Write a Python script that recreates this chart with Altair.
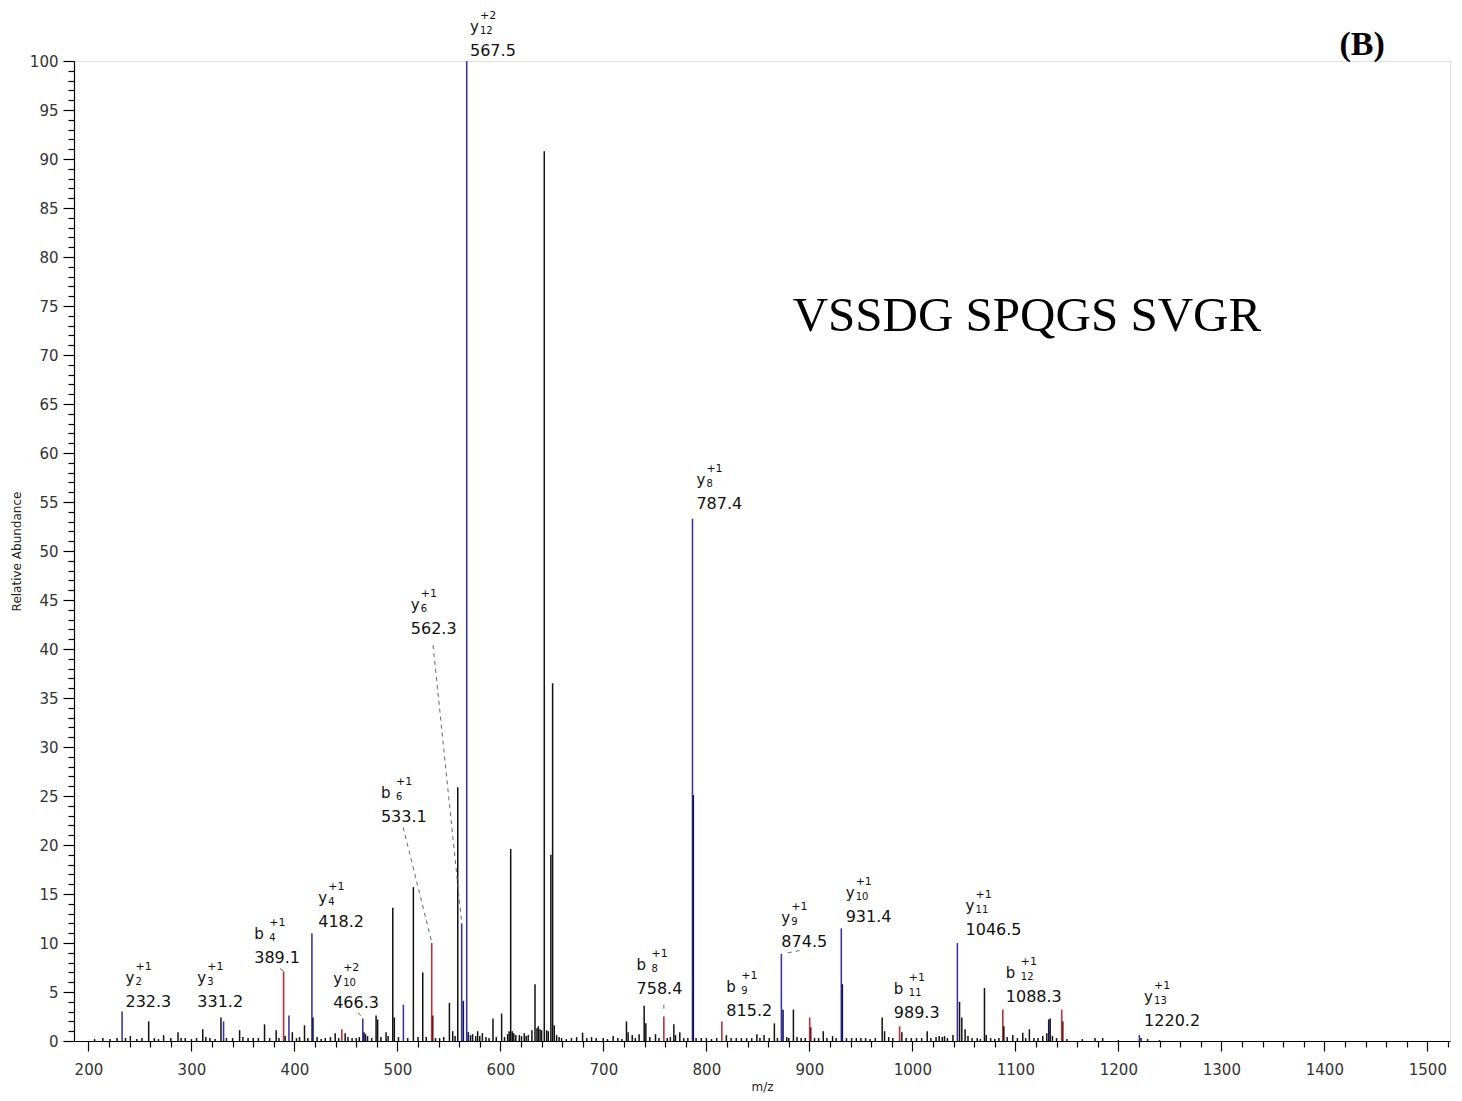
import altair as alt
import pandas as pd

# ---------------- peaks (m/z, relative abundance, ion class) ----------------
mz = [206, 214, 221, 227.8, 232.7, 236, 240.7, 247, 252, 258.5, 264, 268, 273, 280, 287, 290, 294, 300, 305, 311,
      314, 318, 323, 328.7, 331.2, 334, 340, 346.8, 350, 355, 360, 365, 371, 376, 382.3, 385, 389.5, 391, 394.7, 398,
      402, 405, 409.8, 413, 417, 418, 422, 426, 430, 435, 439.6, 443, 446, 449.3, 452, 456, 460, 463, 466.4, 467.5,
      469, 471, 475, 479.3, 480.8, 484, 489, 491, 495.5, 497, 501, 505.8, 510, 515.5, 520, 524.6, 528, 533.3, 534.3, 537,
      541, 545, 550.5, 553.7, 556, 558.6, 562.4, 564, 567.3, 568.8, 571, 573, 576, 577.9, 580, 582.5, 586, 589, 592.8, 596,
      601.2, 604, 607, 608.5, 610, 611.5, 613, 615, 618.4, 620.5, 623.2, 625, 627, 630.6, 633.6, 635.5, 636.8, 638.5, 640, 642.6,
      644.9, 646.5, 649, 650.7, 652.3, 654.6, 657, 659.4, 664, 669, 674, 679.8, 684, 688.5, 693, 699.8, 704, 709.5, 714, 718,
      722.4, 724, 728, 731, 734.7, 739.6, 741.2, 745, 750.6, 754, 758.7, 762, 765, 768.4, 770, 774.2, 778, 782, 786.5, 787.3,
      790, 795, 800, 805, 810, 815, 819.4, 824, 829, 834, 839, 844, 849, 852, 856, 861, 866, 869, 872.8, 874.4,
      878, 880, 884.5, 888, 892, 896, 900.3, 901.3, 905, 909, 913.5, 917, 922.5, 926, 931, 932, 936, 941, 945.6, 950,
      954.6, 959, 964, 970.7, 973, 977, 981, 987.6, 989.8, 994, 999, 1004, 1009, 1014.4, 1018, 1023, 1026, 1029, 1031.2, 1034,
      1039.4, 1043.7, 1045.8, 1048, 1051.2, 1054, 1058, 1063, 1066, 1070, 1071.7, 1076, 1080, 1084, 1087.8, 1088.8, 1092, 1097.5, 1102, 1107.2,
      1110, 1113.6, 1118, 1122, 1126.6, 1130.5, 1132.4, 1133.8, 1136, 1140, 1145, 1146, 1150, 1165, 1177.3, 1184.8, 1200, 1220.4, 1222, 1228.4,
      1240]
abundance = [0.2, 0.3, 0.2, 0.3, 3.0, 0.3, 0.5, 0.2, 0.3, 2.0, 0.3, 0.2, 0.6, 0.3, 0.9, 0.3, 0.3, 0.2, 0.3, 1.2,
             0.4, 0.3, 0.2, 2.4, 2.0, 0.3, 0.3, 1.1, 0.4, 0.3, 0.3, 0.3, 1.7, 0.3, 1.1, 0.3, 7.1, 0.5, 2.6, 0.9,
             0.3, 0.4, 1.6, 0.3, 11.0, 2.4, 0.4, 0.2, 0.3, 0.4, 0.8, 0.3, 1.2, 0.8, 0.4, 0.3, 0.3, 0.4, 2.3, 0.9,
             0.7, 0.5, 0.3, 2.6, 2.2, 0.4, 0.9, 0.5, 13.6, 2.4, 0.4, 3.7, 0.3, 15.7, 0.4, 7.0, 0.4, 10.0, 2.6, 0.3,
             0.3, 0.4, 3.9, 1.0, 0.5, 25.9, 12.0, 4.1, 100.0, 0.9, 0.6, 0.7, 0.5, 1.0, 0.5, 0.8, 0.4, 0.3, 2.3, 0.4,
             2.8, 0.4, 0.7, 1.0, 19.6, 1.0, 0.8, 0.6, 0.6, 0.5, 0.8, 0.5, 0.6, 1.1, 5.8, 1.3, 1.5, 1.2, 1.1, 90.8,
             1.1, 1.0, 19.0, 36.5, 1.6, 0.6, 0.4, 0.3, 0.2, 0.3, 0.4, 0.85, 0.3, 0.4, 0.3, 0.3, 0.2, 0.5, 0.3, 0.2,
             2.0, 0.9, 0.6, 0.3, 0.7, 3.6, 1.8, 0.4, 0.7, 0.3, 2.5, 0.3, 0.4, 1.7, 0.6, 0.9, 0.3, 0.3, 53.3, 25.1,
             0.3, 0.3, 0.3, 0.2, 0.3, 2.0, 0.6, 0.3, 0.3, 0.3, 0.3, 0.3, 0.7, 0.3, 0.6, 0.3, 1.8, 0.3, 8.9, 3.2,
             0.4, 0.3, 3.2, 0.4, 0.3, 0.3, 2.4, 1.4, 0.3, 0.3, 1.0, 0.3, 0.5, 0.3, 11.5, 5.8, 0.3, 0.3, 0.3, 0.3,
             0.3, 0.2, 0.3, 2.4, 1.0, 0.4, 0.3, 1.5, 0.9, 0.3, 0.3, 0.3, 0.3, 1.0, 0.3, 0.4, 0.5, 0.4, 0.5, 0.3,
             0.6, 10.0, 4.0, 2.4, 1.2, 0.5, 0.3, 0.3, 0.2, 5.4, 0.6, 0.3, 0.2, 0.3, 3.2, 1.5, 0.4, 0.6, 0.3, 0.85,
             0.3, 1.2, 0.3, 0.3, 0.5, 0.8, 2.2, 2.3, 0.5, 0.3, 3.2, 2.0, 0.2, 0.2, 0.3, 0.3, 0.1, 0.6, 0.3, 0.2,
             0.1]
kind = ["n", "n", "n", "n", "y", "n", "n", "n", "n", "n", "n", "n", "n", "n", "n", "n", "n", "n", "n", "n",
        "n", "n", "n", "n", "y", "n", "n", "n", "n", "n", "n", "n", "n", "n", "n", "n", "b", "n", "y", "n",
        "n", "n", "n", "n", "y", "yd", "n", "n", "n", "n", "n", "n", "b", "n", "n", "n", "n", "n", "y", "yd",
        "n", "n", "n", "n", "n", "n", "n", "n", "n", "n", "n", "y", "n", "n", "n", "n", "n", "b", "bd", "n",
        "n", "n", "n", "n", "n", "n", "y", "yd", "y", "yd", "n", "n", "n", "n", "n", "n", "n", "n", "n", "n",
        "n", "n", "n", "n", "n", "n", "n", "n", "n", "n", "n", "n", "n", "n", "n", "n", "n", "n", "n", "n",
        "n", "n", "n", "n", "n", "n", "n", "n", "n", "n", "n", "n", "n", "n", "n", "n", "n", "n", "n", "n",
        "n", "n", "n", "n", "n", "n", "n", "n", "n", "n", "b", "n", "n", "n", "n", "n", "n", "n", "y", "yd",
        "n", "n", "n", "n", "n", "b", "n", "n", "n", "n", "n", "n", "n", "n", "n", "n", "n", "n", "y", "yd",
        "n", "n", "n", "n", "n", "n", "b", "bd", "n", "n", "n", "n", "n", "n", "y", "yd", "n", "n", "n", "n",
        "n", "n", "n", "n", "n", "n", "n", "b", "n", "n", "n", "n", "n", "n", "n", "n", "n", "n", "n", "n",
        "n", "y", "n", "n", "n", "n", "n", "n", "n", "n", "n", "n", "n", "n", "b", "n", "n", "n", "n", "n",
        "n", "n", "n", "n", "n", "n", "yd", "n", "n", "n", "b", "bd", "n", "n", "n", "n", "n", "y", "yd", "n",
        "n"]

# ---------------- fragment labels ----------------
ion_letter = ["y", "y", "b", "y", "y", "b", "y", "y", "y", "b", "b", "y", "y", "b", "y", "b", "y"]
ion_index = ["2", "3", "4", "4", "10", "6", "6", "12", "8", "8", "9", "9", "10", "11", "11", "12", "13"]
ion_charge = ["+1", "+1", "+1", "+1", "+2", "+1", "+1", "+2", "+1", "+1", "+1", "+1", "+1", "+1", "+1", "+1", "+1"]
ion_mz_text = ["232.3", "331.2", "389.1", "418.2", "466.3", "533.1", "562.3", "567.5", "787.4", "758.4",
               "815.2", "874.5", "931.4", "989.3", "1046.5", "1088.3", "1220.2"]
label_mz = [236.0, 305.7, 361.0, 423.1, 437.6, 484.0, 513.0, 570.5, 790.3, 732.2,
            819.4, 872.8, 935.2, 982.0, 1051.6, 1090.7, 1225.0]
label_ab = [4.0, 4.0, 8.5, 12.1, 3.9, 22.9, 42.0, 101.0, 54.8, 5.3,
            3.1, 10.1, 12.7, 2.9, 11.3, 4.5, 2.0]

# leader lines from labels to their peaks
lead_x1 = [534.6, 505.6, 461.9, 386.0, 758.7, 879.0]
lead_y1 = [40.4, 21.8, 2.9, 7.4, 3.7, 9.0]
lead_x2 = [562.4, 533.3, 466.4, 389.5, 758.7, 894.0]
lead_y2 = [12.1, 10.1, 2.3, 7.1, 3.0, 9.3]

# annotations
panel_tag = ["(B)"]
tag_mz = [1436.7]
tag_ab = [101.6]
sequence = ["VSSDG SPQGS SVGR"]
seq_mz = [1111.2]
seq_ab = [74.0]

x_ticks = list(range(200, 1521, 20))
y_ticks = list(range(0, 101))

# ---------------- build ----------------
peaks = pd.DataFrame({"mz": mz, "ab": abundance, "kind": kind})
peaks["base"] = 0.0
labels = pd.DataFrame({"letter": ion_letter, "idx": ion_index, "chg": ion_charge,
                       "txt": ion_mz_text, "lx": label_mz, "ly": label_ab})
leaders = pd.DataFrame({"x1": lead_x1, "y1": lead_y1, "x2": lead_x2, "y2": lead_y2})
tag_df = pd.DataFrame({"t": panel_tag, "x": tag_mz, "y": tag_ab})
seq_df = pd.DataFrame({"t": sequence, "x": seq_mz, "y": seq_ab})

FONT = "DejaVu Sans"
xs = alt.Scale(domain=[186, 1522], nice=False, zero=False)
ys = alt.Scale(domain=[0, 100], nice=False)

x_axis = alt.Axis(
    values=x_ticks, tickCount=len(x_ticks) + 5, format="d",
    labelExpr="datum.value % 100 === 0 ? datum.label : ''",
    tickSize={"condition": {"test": "datum.value % 100 === 0", "value": 10}, "value": 6},
    labelOverlap=False, labelFlush=False, labelPadding=11,
    labelFont=FONT, labelFontSize=15, labelColor="#333333",
    title="m/z", titleFont=FONT, titleFontSize=12, titleFontWeight="normal",
    titleColor="#222222", titlePadding=4,
    domainColor="#000000", tickColor="#000000", domainWidth=1.2, tickWidth=1.2, grid=False,
)
y_axis = alt.Axis(
    values=y_ticks, tickCount=len(y_ticks) + 5, format="d",
    labelExpr="datum.value % 5 === 0 ? datum.label : ''",
    tickSize={"condition": {"test": "datum.value % 5 === 0", "value": 11}, "value": 6},
    labelOverlap=False, labelFlush=False, labelPadding=5,
    labelFont=FONT, labelFontSize=15, labelColor="#333333",
    title="Relative Abundance", titleFont=FONT, titleFontSize=12, titleFontWeight="normal",
    titleColor="#222222", titlePadding=6,
    domainColor="#000000", tickColor="#000000", domainWidth=1.2, tickWidth=1.2, grid=False,
)

kind_dom = ["n", "y", "yd", "b", "bd"]
kind_col = ["#111111", "#3434a0", "#12125c", "#b8343c", "#701818"]
kind_w = [1.5, 1.7, 2.6, 1.6, 2.4]

peak_layer = alt.Chart(peaks).mark_rule().encode(
    x=alt.X("mz:Q", scale=xs, axis=x_axis),
    y=alt.Y("ab:Q", scale=ys, axis=y_axis),
    y2="base:Q",
    color=alt.Color("kind:N", scale=alt.Scale(domain=kind_dom, range=kind_col), legend=None),
    strokeWidth=alt.StrokeWidth("kind:N", scale=alt.Scale(domain=kind_dom, range=kind_w), legend=None),
)

leader_layer = alt.Chart(leaders).mark_rule(color="#666666", strokeDash=[4, 4], strokeWidth=1).encode(
    x="x1:Q", y="y1:Q", x2="x2:Q", y2="y2:Q"
)

num_layer = alt.Chart(labels).mark_text(align="left", baseline="middle", font=FONT, fontSize=16,
                                        color="#111111").encode(x="lx:Q", y="ly:Q", text="txt:N")
letter_layer = alt.Chart(labels).mark_text(align="left", baseline="middle", font=FONT, fontSize=15,
                                           dy=-24, color="#111111").encode(x="lx:Q", y="ly:Q", text="letter:N")
sub_y = alt.Chart(labels).transform_filter("datum.letter === 'y'").mark_text(
    align="left", baseline="middle", font=FONT, fontSize=10, dx=10, dy=-20, color="#111111"
).encode(x="lx:Q", y="ly:Q", text="idx:N")
sup_y = alt.Chart(labels).transform_filter("datum.letter === 'y'").mark_text(
    align="left", baseline="middle", font=FONT, fontSize=11, dx=10, dy=-35, color="#111111"
).encode(x="lx:Q", y="ly:Q", text="chg:N")
sub_b = alt.Chart(labels).transform_filter("datum.letter === 'b'").mark_text(
    align="left", baseline="middle", font=FONT, fontSize=10, dx=15, dy=-20, color="#111111"
).encode(x="lx:Q", y="ly:Q", text="idx:N")
sup_b = alt.Chart(labels).transform_filter("datum.letter === 'b'").mark_text(
    align="left", baseline="middle", font=FONT, fontSize=11, dx=15, dy=-35, color="#111111"
).encode(x="lx:Q", y="ly:Q", text="chg:N")

tag_layer = alt.Chart(tag_df).mark_text(font="Liberation Serif", fontSize=34, fontWeight="bold",
                                        align="center", baseline="middle", color="#000000").encode(
    x="x:Q", y="y:Q", text="t:N")
seq_layer = alt.Chart(seq_df).mark_text(font="Liberation Serif", fontSize=49, align="center",
                                        baseline="middle", color="#000000").encode(
    x="x:Q", y="y:Q", text="t:N")

chart = alt.layer(
    peak_layer, leader_layer, num_layer, letter_layer, sub_y, sup_y, sub_b, sup_b, tag_layer, seq_layer
).properties(
    width=1376, height=980,
    autosize=alt.AutoSizeParams(type="none"),
    padding={"top": 53, "left": 66, "right": 4, "bottom": 52},
).configure_view(stroke=None).configure(background="white")

chart.save("out.html", embed_options={"renderer": "svg", "actions": False})
